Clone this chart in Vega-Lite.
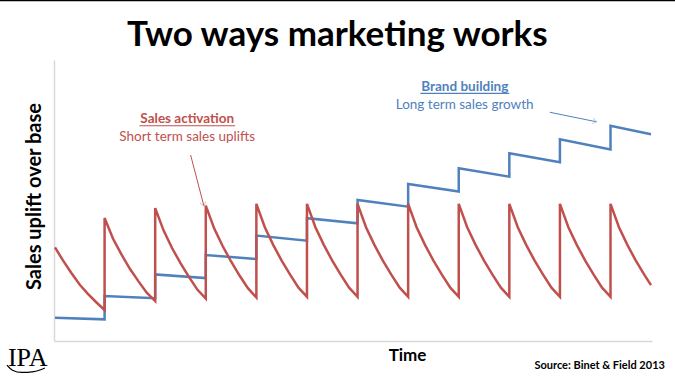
{
  "$schema": "https://vega.github.io/schema/vega-lite/v6.json",
  "width": 598,
  "height": 281,
  "autosize": {"type": "none"},
  "padding": {"left": 54, "top": 60, "right": 23, "bottom": 39},
  "background": "white",
  "config": {"view": {"stroke": null}, "font": "Lato"},
  "datasets": {
    "blue": [
      {"t": 0.02, "y": 8.3, "i": 0}, {"t": 1, "y": 7.7, "i": 1}, {"t": 1, "y": 16.0, "i": 2},
      {"t": 2, "y": 15.2, "i": 3}, {"t": 2, "y": 23.7, "i": 4}, {"t": 3, "y": 22.4, "i": 5},
      {"t": 3, "y": 30.6, "i": 6}, {"t": 4, "y": 29.2, "i": 7}, {"t": 4, "y": 37.5, "i": 8},
      {"t": 5, "y": 35.7, "i": 9}, {"t": 5, "y": 43.7, "i": 10}, {"t": 6, "y": 41.9, "i": 11},
      {"t": 6, "y": 50.2, "i": 12}, {"t": 7, "y": 47.8, "i": 13}, {"t": 7, "y": 55.9, "i": 14},
      {"t": 8, "y": 53.2, "i": 15}, {"t": 8, "y": 61.5, "i": 16}, {"t": 9, "y": 58.5, "i": 17},
      {"t": 9, "y": 66.8, "i": 18}, {"t": 10, "y": 63.6, "i": 19}, {"t": 10, "y": 71.8, "i": 20},
      {"t": 11, "y": 68.2, "i": 21}, {"t": 11, "y": 76.6, "i": 22}, {"t": 11.8, "y": 73.6, "i": 23}
    ],
    "red": [
      {"t": 0.02, "y": 33.3, "i": 0}, {"t": 0.18, "y": 28.6, "i": 1}, {"t": 0.35, "y": 24.0, "i": 2}, {"t": 0.51, "y": 20.0, "i": 3}, {"t": 0.67, "y": 16.8, "i": 4}, {"t": 0.84, "y": 13.7, "i": 5}, {"t": 1.0, "y": 11.0, "i": 6},
      {"t": 1.0, "y": 43.8, "i": 7}, {"t": 1.167, "y": 36.4, "i": 8}, {"t": 1.333, "y": 30.8, "i": 9}, {"t": 1.5, "y": 25.7, "i": 10}, {"t": 1.667, "y": 21.3, "i": 11}, {"t": 1.833, "y": 17.2, "i": 12}, {"t": 2.0, "y": 14.2, "i": 13},
      {"t": 2.0, "y": 47.3, "i": 14}, {"t": 2.167, "y": 39.3, "i": 15}, {"t": 2.333, "y": 33.1, "i": 16}, {"t": 2.5, "y": 27.7, "i": 17}, {"t": 2.667, "y": 22.8, "i": 18}, {"t": 2.833, "y": 18.3, "i": 19}, {"t": 3.0, "y": 15.1, "i": 20},
      {"t": 3.0, "y": 48.2, "i": 21}, {"t": 3.167, "y": 40.0, "i": 22}, {"t": 3.333, "y": 33.8, "i": 23}, {"t": 3.5, "y": 28.3, "i": 24}, {"t": 3.667, "y": 23.3, "i": 25}, {"t": 3.833, "y": 18.8, "i": 26}, {"t": 4.0, "y": 15.5, "i": 27},
      {"t": 4.0, "y": 48.8, "i": 28}, {"t": 4.167, "y": 40.5, "i": 29}, {"t": 4.333, "y": 34.2, "i": 30}, {"t": 4.5, "y": 28.6, "i": 31}, {"t": 4.667, "y": 23.6, "i": 32}, {"t": 4.833, "y": 19.0, "i": 33}, {"t": 5.0, "y": 15.7, "i": 34},
      {"t": 5.0, "y": 48.8, "i": 35}, {"t": 5.167, "y": 40.5, "i": 36}, {"t": 5.333, "y": 34.2, "i": 37}, {"t": 5.5, "y": 28.6, "i": 38}, {"t": 5.667, "y": 23.6, "i": 39}, {"t": 5.833, "y": 19.0, "i": 40}, {"t": 6.0, "y": 15.7, "i": 41},
      {"t": 6.0, "y": 48.8, "i": 42}, {"t": 6.167, "y": 40.5, "i": 43}, {"t": 6.333, "y": 34.2, "i": 44}, {"t": 6.5, "y": 28.6, "i": 45}, {"t": 6.667, "y": 23.6, "i": 46}, {"t": 6.833, "y": 19.0, "i": 47}, {"t": 7.0, "y": 15.7, "i": 48},
      {"t": 7.0, "y": 48.8, "i": 49}, {"t": 7.167, "y": 40.5, "i": 50}, {"t": 7.333, "y": 34.2, "i": 51}, {"t": 7.5, "y": 28.6, "i": 52}, {"t": 7.667, "y": 23.6, "i": 53}, {"t": 7.833, "y": 19.0, "i": 54}, {"t": 8.0, "y": 15.7, "i": 55},
      {"t": 8.0, "y": 48.8, "i": 56}, {"t": 8.167, "y": 40.5, "i": 57}, {"t": 8.333, "y": 34.2, "i": 58}, {"t": 8.5, "y": 28.6, "i": 59}, {"t": 8.667, "y": 23.6, "i": 60}, {"t": 8.833, "y": 19.0, "i": 61}, {"t": 9.0, "y": 15.7, "i": 62},
      {"t": 9.0, "y": 48.8, "i": 63}, {"t": 9.167, "y": 40.5, "i": 64}, {"t": 9.333, "y": 34.2, "i": 65}, {"t": 9.5, "y": 28.6, "i": 66}, {"t": 9.667, "y": 23.6, "i": 67}, {"t": 9.833, "y": 19.0, "i": 68}, {"t": 10.0, "y": 15.7, "i": 69},
      {"t": 10.0, "y": 48.8, "i": 70}, {"t": 10.167, "y": 40.5, "i": 71}, {"t": 10.333, "y": 34.2, "i": 72}, {"t": 10.5, "y": 28.6, "i": 73}, {"t": 10.667, "y": 23.6, "i": 74}, {"t": 10.833, "y": 19.0, "i": 75}, {"t": 11.0, "y": 15.7, "i": 76},
      {"t": 11.0, "y": 48.8, "i": 77}, {"t": 11.167, "y": 40.5, "i": 78}, {"t": 11.333, "y": 34.2, "i": 79}, {"t": 11.5, "y": 28.6, "i": 80}, {"t": 11.667, "y": 23.6, "i": 81}, {"t": 11.8, "y": 19.9, "i": 82}
    ],
    "heading": [
      {"t": 5.6, "y": 105.0, "label": "Two ways marketing works"}
    ],
    "boldNotes": [
      {"t": 2.634, "y": 78.9, "label": "Sales activation", "c": "red"},
      {"t": 8.12, "y": 90.3, "label": "Brand building", "c": "blue"}
    ],
    "plainNotes": [
      {"t": 2.632, "y": 72.5, "label": "Short term sales uplifts", "c": "red"},
      {"t": 8.117, "y": 84.0, "label": "Long term sales growth", "c": "blue"}
    ],
    "underlines": [
      {"t": 1.69, "t2": 3.58, "y": 76.6, "c": "red"},
      {"t": 7.24, "t2": 9.0, "y": 88.1, "c": "blue"}
    ],
    "arrows": [
      {"t": 2.70, "y": 66.2, "t2": 2.964, "y2": 48.0, "c": "red"},
      {"t": 9.80, "y": 81.4, "t2": 10.725, "y2": 78.0, "c": "blue"}
    ],
    "frame": [
      {"t": -1.2, "t2": 12.5, "y": 121.2}
    ],
    "logo": [
      {"t": -0.52, "y": -8.9, "label": "IPA"}
    ],
    "logoSwoosh": [
      {"t": -0.93, "y": -8.6, "i": 0}, {"t": -0.82, "y": -10.4, "i": 1}, {"t": -0.64, "y": -11.2, "i": 2}, {"t": -0.40, "y": -10.9, "i": 3}, {"t": -0.18, "y": -9.6, "i": 4}
    ],
    "source": [
      {"t": 12.075, "y": -8.9, "label": "Source: Binet & Field 2013"}
    ]
  },
  "layer": [
    {
      "data": {"name": "blue"},
      "mark": {"type": "line", "color": "#4F81BD", "strokeWidth": 2.5, "strokeJoin": "miter"},
      "encoding": {
        "x": {"field": "t", "type": "quantitative", "scale": {"domain": [0, 11.82], "nice": false, "zero": false},
              "axis": {"title": "Time", "domainColor": "#D9D9D9", "domainWidth": 1.5, "ticks": false, "labels": false, "grid": false,
                       "titleFont": "Lato", "titleFontSize": 17, "titleFontWeight": "bold", "titleColor": "#000000",
                       "titleX": 353, "titleY": 14, "titleBaseline": "middle", "titleAlign": "center"}},
        "y": {"field": "y", "type": "quantitative", "scale": {"domain": [0, 100], "nice": false, "zero": false},
              "axis": {"title": "Sales uplift over base", "domainColor": "#D9D9D9", "domainWidth": 1.5, "ticks": false, "labels": false, "grid": false,
                       "titleFont": "Lato", "titleFontSize": 20, "titleFontWeight": "bold", "titleColor": "#000000",
                       "titleX": -20, "titleY": 136, "titleBaseline": "middle", "titleAlign": "center", "titleAngle": -90}},
        "order": {"field": "i", "type": "quantitative"}
      }
    },
    {
      "data": {"name": "red"},
      "mark": {"type": "line", "color": "#C0504D", "strokeWidth": 2.5, "strokeJoin": "miter"},
      "encoding": {
        "x": {"field": "t", "type": "quantitative"},
        "y": {"field": "y", "type": "quantitative"},
        "order": {"field": "i", "type": "quantitative"}
      }
    },
    {
      "data": {"name": "heading"},
      "mark": {"type": "text", "font": "Lato", "fontSize": 35, "fontWeight": "bold", "baseline": "alphabetic", "align": "center", "color": "#000000"},
      "encoding": {
        "x": {"field": "t", "type": "quantitative"},
        "y": {"field": "y", "type": "quantitative"},
        "text": {"field": "label"}
      }
    },
    {
      "data": {"name": "boldNotes"},
      "mark": {"type": "text", "font": "Lato", "fontSize": 13.5, "fontWeight": "bold", "baseline": "middle", "align": "center"},
      "encoding": {
        "x": {"field": "t", "type": "quantitative"},
        "y": {"field": "y", "type": "quantitative"},
        "text": {"field": "label"},
        "color": {"field": "c", "type": "nominal", "scale": {"domain": ["red", "blue"], "range": ["#C0504D", "#4F81BD"]}, "legend": null}
      }
    },
    {
      "data": {"name": "plainNotes"},
      "mark": {"type": "text", "font": "Lato", "fontSize": 13.5, "baseline": "middle", "align": "center"},
      "encoding": {
        "x": {"field": "t", "type": "quantitative"},
        "y": {"field": "y", "type": "quantitative"},
        "text": {"field": "label"},
        "color": {"field": "c", "type": "nominal", "scale": {"domain": ["red", "blue"], "range": ["#C65957", "#5A8AC6"]}, "legend": null}
      }
    },
    {
      "data": {"name": "underlines"},
      "mark": {"type": "rule", "strokeWidth": 1.2},
      "encoding": {
        "x": {"field": "t", "type": "quantitative"},
        "x2": {"field": "t2"},
        "y": {"field": "y", "type": "quantitative"},
        "color": {"field": "c", "type": "nominal", "scale": {"domain": ["red", "blue"], "range": ["#C0504D", "#4F81BD"]}, "legend": null}
      }
    },
    {
      "data": {"name": "arrows"},
      "mark": {"type": "rule", "strokeWidth": 1},
      "encoding": {
        "x": {"field": "t", "type": "quantitative"},
        "y": {"field": "y", "type": "quantitative"},
        "x2": {"field": "t2"},
        "y2": {"field": "y2"},
        "color": {"field": "c", "type": "nominal", "scale": {"domain": ["red", "blue"], "range": ["#E3A9A8", "#A9C1E0"]}, "legend": null}
      }
    },
    {
      "data": {"name": "arrows"},
      "transform": [{"filter": "datum.c === 'red'"}],
      "mark": {"type": "point", "shape": "M-1,-0.7L0,0L-1,0.7", "filled": false, "stroke": "#E3A9A8", "strokeWidth": 1, "size": 70, "angle": 75},
      "encoding": {
        "x": {"field": "t2", "type": "quantitative"},
        "y": {"field": "y2", "type": "quantitative"}
      }
    },
    {
      "data": {"name": "arrows"},
      "transform": [{"filter": "datum.c === 'blue'"}],
      "mark": {"type": "point", "shape": "M-1,-0.7L0,0L-1,0.7", "filled": false, "stroke": "#A9C1E0", "strokeWidth": 1, "size": 70, "angle": 11},
      "encoding": {
        "x": {"field": "t2", "type": "quantitative"},
        "y": {"field": "y2", "type": "quantitative"}
      }
    },
    {
      "data": {"name": "frame"},
      "mark": {"type": "rule", "color": "#000000", "strokeWidth": 1.5},
      "encoding": {
        "x": {"field": "t", "type": "quantitative"},
        "x2": {"field": "t2"},
        "y": {"field": "y", "type": "quantitative"}
      }
    },
    {
      "data": {"name": "logo"},
      "mark": {"type": "text", "font": "Liberation Serif", "fontSize": 26, "align": "center", "baseline": "alphabetic", "color": "#000000"},
      "encoding": {
        "x": {"field": "t", "type": "quantitative"},
        "y": {"field": "y", "type": "quantitative"},
        "text": {"field": "label"}
      }
    },
    {
      "data": {"name": "logoSwoosh"},
      "mark": {"type": "line", "color": "#000000", "strokeWidth": 1.2, "interpolate": "monotone"},
      "encoding": {
        "x": {"field": "t", "type": "quantitative"},
        "y": {"field": "y", "type": "quantitative"},
        "order": {"field": "i", "type": "quantitative"}
      }
    },
    {
      "data": {"name": "source"},
      "mark": {"type": "text", "font": "Lato", "fontSize": 11, "fontWeight": "bold", "align": "right", "baseline": "middle", "color": "#000000"},
      "encoding": {
        "x": {"field": "t", "type": "quantitative"},
        "y": {"field": "y", "type": "quantitative"},
        "text": {"field": "label"}
      }
    }
  ]
}
